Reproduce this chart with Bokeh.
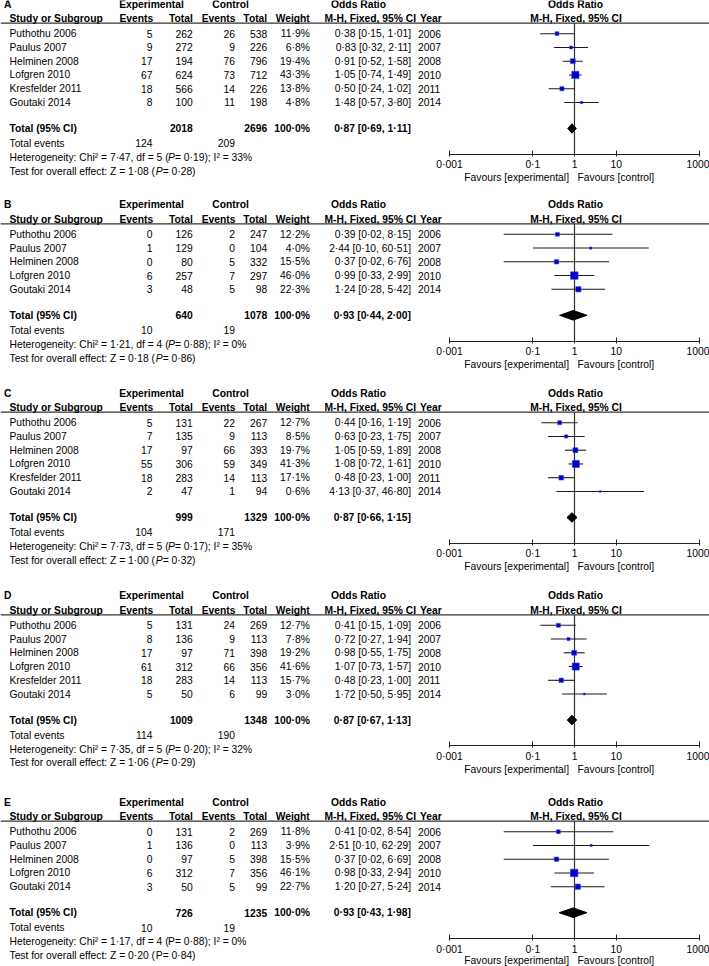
import math
from bokeh.plotting import figure
from bokeh.models import (Range1d, LogScale, LogAxis, FixedTicker,
                          CustomJSTickFormatter, ColumnDataSource)
from bokeh.core.properties import value
from bokeh.embed import file_html
from bokeh.resources import INLINE

# ---------------------------------------------------------------- data
labels = ["A", "B", "C", "D", "E"]

studies6 = ["Puthothu 2006", "Paulus 2007", "Helminen 2008",
            "Lofgren 2010", "Kresfelder 2011", "Goutaki 2014"]
studies5 = ["Puthothu 2006", "Paulus 2007", "Helminen 2008",
            "Lofgren 2010", "Goutaki 2014"]
years6 = [2006, 2007, 2008, 2010, 2011, 2014]
years5 = [2006, 2007, 2008, 2010, 2014]

# Panel A
a_exp_ev = [5, 9, 17, 67, 18, 8]
a_exp_n = [262, 272, 194, 624, 566, 100]
a_ctl_ev = [26, 9, 76, 73, 14, 11]
a_ctl_n = [538, 226, 796, 712, 226, 198]
a_weight = [11.9, 6.8, 19.4, 43.3, 13.8, 4.8]
a_or = [0.38, 0.83, 0.91, 1.05, 0.50, 1.48]
a_lo = [0.15, 0.32, 0.52, 0.74, 0.24, 0.57]
a_hi = [1.01, 2.11, 1.58, 1.49, 1.02, 3.80]
a_total = [2018, 2696, 0.87, 0.69, 1.11, 124, 209]
a_stats = [7.47, 5, 0.19, 33, 1.08, 0.28]

# Panel B
b_exp_ev = [0, 1, 0, 6, 3]
b_exp_n = [126, 129, 80, 257, 48]
b_ctl_ev = [2, 0, 5, 7, 5]
b_ctl_n = [247, 104, 332, 297, 98]
b_weight = [12.2, 4.0, 15.5, 46.0, 22.3]
b_or = [0.39, 2.44, 0.37, 0.99, 1.24]
b_lo = [0.02, 0.10, 0.02, 0.33, 0.28]
b_hi = [8.15, 60.51, 6.76, 2.99, 5.42]
b_total = [640, 1078, 0.93, 0.44, 2.00, 10, 19]
b_stats = [1.21, 4, 0.88, 0, 0.18, 0.86]

# Panel C
c_exp_ev = [5, 7, 17, 55, 18, 2]
c_exp_n = [131, 135, 97, 306, 283, 47]
c_ctl_ev = [22, 9, 66, 59, 14, 1]
c_ctl_n = [267, 113, 393, 349, 113, 94]
c_weight = [12.7, 8.5, 19.7, 41.3, 17.1, 0.6]
c_or = [0.44, 0.63, 1.05, 1.08, 0.48, 4.13]
c_lo = [0.16, 0.23, 0.59, 0.72, 0.23, 0.37]
c_hi = [1.19, 1.75, 1.89, 1.61, 1.00, 46.80]
c_total = [999, 1329, 0.87, 0.66, 1.15, 104, 171]
c_stats = [7.73, 5, 0.17, 35, 1.00, 0.32]

# Panel D
d_exp_ev = [5, 8, 17, 61, 18, 5]
d_exp_n = [131, 136, 97, 312, 283, 50]
d_ctl_ev = [24, 9, 71, 66, 14, 6]
d_ctl_n = [269, 113, 398, 356, 113, 99]
d_weight = [12.7, 7.8, 19.2, 41.6, 15.7, 3.0]
d_or = [0.41, 0.72, 0.98, 1.07, 0.48, 1.72]
d_lo = [0.15, 0.27, 0.55, 0.73, 0.23, 0.50]
d_hi = [1.09, 1.94, 1.75, 1.57, 1.00, 5.95]
d_total = [1009, 1348, 0.87, 0.67, 1.13, 114, 190]
d_stats = [7.35, 5, 0.20, 32, 1.06, 0.29]

# Panel E
e_exp_ev = [0, 1, 0, 6, 3]
e_exp_n = [131, 136, 97, 312, 50]
e_ctl_ev = [2, 0, 5, 7, 5]
e_ctl_n = [269, 113, 398, 356, 99]
e_weight = [11.8, 3.9, 15.5, 46.1, 22.7]
e_or = [0.41, 2.51, 0.37, 0.98, 1.20]
e_lo = [0.02, 0.10, 0.02, 0.33, 0.27]
e_hi = [8.54, 62.29, 6.69, 2.94, 5.24]
e_total = [726, 1235, 0.93, 0.43, 1.98, 10, 19]
e_stats = [1.17, 4, 0.88, 0, 0.20, 0.84]

axis_ticks = [0.001, 0.1, 1, 10, 1000]

panels = [
    dict(study=studies6, year=years6, ee=a_exp_ev, en=a_exp_n, ce=a_ctl_ev, cn=a_ctl_n,
         w=a_weight, orr=a_or, lo=a_lo, hi=a_hi, tot=a_total, st=a_stats, ital=True),
    dict(study=studies5, year=years5, ee=b_exp_ev, en=b_exp_n, ce=b_ctl_ev, cn=b_ctl_n,
         w=b_weight, orr=b_or, lo=b_lo, hi=b_hi, tot=b_total, st=b_stats, ital=True),
    dict(study=studies6, year=years6, ee=c_exp_ev, en=c_exp_n, ce=c_ctl_ev, cn=c_ctl_n,
         w=c_weight, orr=c_or, lo=c_lo, hi=c_hi, tot=c_total, st=c_stats, ital=True),
    dict(study=studies6, year=years6, ee=d_exp_ev, en=d_exp_n, ce=d_ctl_ev, cn=d_ctl_n,
         w=d_weight, orr=d_or, lo=d_lo, hi=d_hi, tot=d_total, st=d_stats, ital=True),
    dict(study=studies5, year=years5, ee=e_exp_ev, en=e_exp_n, ce=e_ctl_ev, cn=e_ctl_n,
         w=e_weight, orr=e_or, lo=e_lo, hi=e_hi, tot=e_total, st=e_stats, ital=False),
]

# ---------------------------------------------------------------- layout
W, H = 709, 966
X0, X1 = 0.0, 709.0
Y0, Y1 = 0.0, 966.0
SX = W / (X1 - X0)
FS = 10.3
FONT = "Liberation Sans"
UNDERLINE_Y = [22.7, 223.3, 411.7, 614.3, 820.7]
AX_L, AX_R = 449.0, 699.0

COL = dict(name=9, ee=152.0, en=192.3, ce=234.5, cn=266.7, w=309.3,
           orr=410.5, year=417.5)

ARIAL = {'H': .722, 'e': .556, 't': .278, 'r': .333, 'o': .556, 'g': .556,
         'n': .556, 'i': .222, 'y': .5, ':': .278, ' ': .278, 'C': .722,
         'h': .556, '\u00b2': .333, '=': .584, '\u00b7': .278, ',': .278,
         'd': .556, 'f': .278, '(': .333, 'T': .611, 's': .5, 'v': .5,
         'a': .556, 'l': .222, 'c': .5, 'Z': .611, 'P': .667, ')': .333,
         ';': .278, 'I': .278, '%': .889}
for ch in "0123456789":
    ARIAL[ch] = .556


def tw(s):
    return sum(ARIAL.get(ch, .556) for ch in s) * FS / SX


def fmt(v, nd=2):
    return f"{v:.{nd}f}".replace(".", "\u00b7")


p = figure(width=W, height=H, x_range=Range1d(X0, X1), y_range=Range1d(Y1, Y0),
           output_backend="svg", toolbar_location=None,
           x_axis_location=None, y_axis_location=None, min_border=0)
p.outline_line_color = None
p.background_fill_color = "white"
p.border_fill_color = "white"
for g in p.grid:
    g.visible = False

dec = (AX_R - AX_L) / 6.0
lg0 = -3 + (X0 - AX_L) / dec
lg1 = -3 + (X1 - AX_L) / dec
p.extra_x_ranges = {"or": Range1d(10 ** lg0, 10 ** lg1)}
p.extra_x_scales = {"or": LogScale()}

texts = {}


def txt(x, y, s, align="left", style="normal"):
    d = texts.setdefault((align, style), dict(x=[], y=[], text=[]))
    d["x"].append(x)
    d["y"].append(y)
    d["text"].append(s)


seg = dict(x0=[], x1=[], y0=[], y1=[])
ci = dict(x0=[], x1=[], y0=[], y1=[])
vline = dict(x0=[], x1=[], y0=[], y1=[])
sq = dict(x=[], y=[], size=[])
dia = dict(xs=[], ys=[])

for k, pan in enumerate(panels):
    U = UNDERLINE_Y[k]
    n = len(pan["study"])
    rows = [U + 10.5 + i * 13.75 for i in range(n)]
    T = rows[-1] + 26
    ay = T + 25.8
    h1, h2 = U - 19, U - 4.8

    # header
    txt(3.5, h1, labels[k], "left", "bold")
    txt(151, h1, "Experimental", "center", "bold")
    txt(230, h1, "Control", "center", "bold")
    txt(358, h1, "Odds Ratio", "center", "bold")
    txt(575, h1, "Odds Ratio", "center", "bold")
    txt(COL["name"], h2, "Study or Subgroup", "left", "bold")
    txt(152.7, h2, "Events", "right", "bold")
    txt(192.3, h2, "Total", "right", "bold")
    txt(235, h2, "Events", "right", "bold")
    txt(266.7, h2, "Total", "right", "bold")
    txt(309.3, h2, "Weight", "right", "bold")
    txt(324, h2, "M-H, Fixed, 95% CI", "left", "bold")
    txt(419.5, h2, "Year", "left", "bold")
    txt(575.5, h2, "M-H, Fixed, 95% CI", "center", "bold")
    seg["x0"].append(X0); seg["x1"].append(X1)
    seg["y0"].append(U); seg["y1"].append(U)

    # study rows
    for i in range(n):
        y = rows[i]
        txt(COL["name"], y, pan["study"][i])
        txt(COL["ee"], y, str(pan["ee"][i]), "right")
        txt(COL["en"], y, str(pan["en"][i]), "right")
        txt(COL["ce"], y, str(pan["ce"][i]), "right")
        txt(COL["cn"], y, str(pan["cn"][i]), "right")
        txt(COL["w"], y, fmt(pan["w"][i], 1) + "%", "right")
        txt(COL["orr"], y, f"{fmt(pan['orr'][i])} [{fmt(pan['lo'][i])}, {fmt(pan['hi'][i])}]", "right")
        txt(COL["year"], y, str(pan["year"][i]))
        ci["x0"].append(pan["lo"][i]); ci["x1"].append(pan["hi"][i])
        ci["y0"].append(y); ci["y1"].append(y)
        sq["x"].append(pan["orr"][i]); sq["y"].append(y)
        sq["size"].append(max(1.6, 1.1 * math.sqrt(pan["w"][i])) * SX)

    # totals
    tot = pan["tot"]
    txt(COL["name"], T, "Total (95% CI)", "left", "bold")
    txt(COL["en"], T, str(tot[0]), "right", "bold")
    txt(COL["cn"], T, str(tot[1]), "right", "bold")
    txt(COL["w"], T, fmt(100.0, 1) + "%", "right", "bold")
    txt(COL["orr"], T, f"{fmt(tot[2])} [{fmt(tot[3])}, {fmt(tot[4])}]", "right", "bold")
    dia["xs"].append([tot[3], tot[2], tot[4], tot[2]])
    dia["ys"].append([T, T - 4.8, T, T + 4.8])

    ev_y = T + 15
    txt(COL["name"], ev_y, "Total events")
    txt(COL["ee"], ev_y, str(tot[5]), "right")
    txt(COL["ce"], ev_y, str(tot[6]), "right")

    st = pan["st"]
    pstyle = "italic" if pan["ital"] else "normal"
    het_y = T + 29
    pre = f"Heterogeneity: Chi\u00b2 = {fmt(st[0])}, df = {st[1]} ("
    xP = COL["name"] + tw(pre)
    txt(COL["name"], het_y, pre)
    txt(xP, het_y, "P", "left", pstyle)
    txt(xP + tw("P"), het_y, f" = {fmt(st[2])}); I\u00b2 = {st[3]}%")
    test_y = T + 42.7
    pre2 = f"Test for overall effect: Z = {fmt(st[4])} ("
    xP2 = COL["name"] + tw(pre2)
    txt(COL["name"], test_y, pre2)
    txt(xP2, test_y, "P", "left", pstyle)
    txt(xP2 + tw("P"), test_y, f" = {fmt(st[5])})")

    # forest: vertical line and axis
    vline["x0"].append(1); vline["x1"].append(1)
    vline["y0"].append(U); vline["y1"].append(ay)
    ax = LogAxis(x_range_name="or", fixed_location=ay, bounds=(0.001, 1000),
                 ticker=FixedTicker(ticks=axis_ticks),
                 formatter=CustomJSTickFormatter(code="return tick.toString().replace('.', '\u00b7')"),
                 axis_line_color="#222222", major_tick_line_color="#222222",
                 major_tick_in=4, major_tick_out=2,
                 minor_tick_line_color=None,
                 major_label_text_font=FONT, major_label_text_font_size=f"{FS}px",
                 major_label_text_color="black", major_label_standoff=3)
    p.add_layout(ax, "below")
    fav_y = min(ay + 23.4, Y1 - 6.5)
    txt(568.5, fav_y, "Favours [experimental]", "right")
    txt(577, fav_y, "Favours [control]", "left")

# ---------------------------------------------------------------- glyphs
p.segment(x0="x0", x1="x1", y0="y0", y1="y1", source=ColumnDataSource(seg),
          line_color="#333333", line_width=1.2)
p.segment(x0="x0", x1="x1", y0="y0", y1="y1", source=ColumnDataSource(vline),
          line_color="#333333", line_width=1.2, x_range_name="or")
p.segment(x0="x0", x1="x1", y0="y0", y1="y1", source=ColumnDataSource(ci),
          line_color="#1a1a1a", line_width=1.1, x_range_name="or")
p.scatter(x="x", y="y", size="size", marker="square", source=ColumnDataSource(sq),
          fill_color="#0000cc", line_color="#3a3ad8", line_width=0.6, x_range_name="or")
p.patches(xs="xs", ys="ys", source=ColumnDataSource(dia), fill_color="black",
          line_color="black", line_width=1, x_range_name="or")

for (align, style), d in texts.items():
    p.text(x="x", y="y", text="text", source=ColumnDataSource(d),
           text_align=align, text_baseline="middle", text_font=value(FONT),
           text_font_size=f"{FS}px", text_font_style=style, text_color="black")

open("out.html", "w").write(file_html(p, INLINE))
